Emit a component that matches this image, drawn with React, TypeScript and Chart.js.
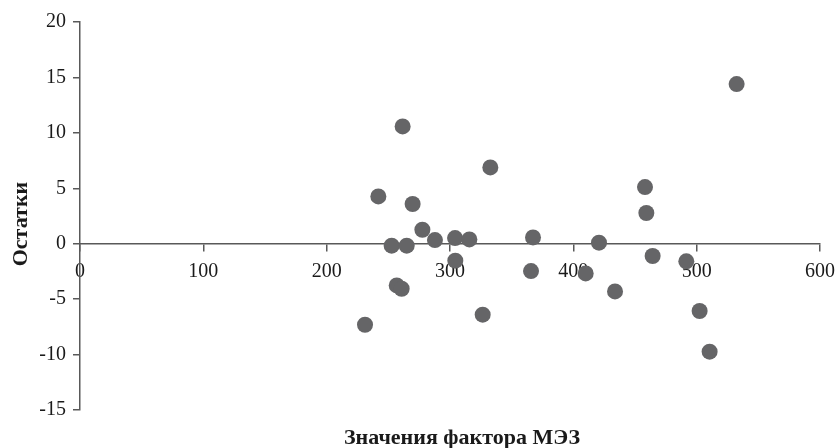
import React, { useEffect, useRef } from "react";
import { Chart, registerables } from "chart.js";

Chart.register(...registerables);

const xValues = [261.6, 332.7, 241.9, 269.7, 277.6, 287.8, 304.1, 315.7, 252.7, 264.9, 304.3, 256.8, 260.8, 326.5, 231.1, 532.4, 458.1, 459.2, 367.3, 420.8, 464.3, 491.6, 365.7, 410.0, 433.8, 502.4, 510.5];
const yValues = [10.58, 6.88, 4.27, 3.58, 1.26, 0.33, 0.51, 0.39, -0.18, -0.18, -1.53, -3.76, -4.06, -6.4, -7.31, 14.4, 5.11, 2.77, 0.57, 0.09, -1.11, -1.59, -2.47, -2.68, -4.3, -6.07, -9.74];
const xTitle = "Значения фактора МЭЗ";
const yTitle = "Остатки";
const xRange = [0, 600, 100];
const yRange = [-15, 20, 5];

const FONT = "'Liberation Serif', 'Times New Roman', serif";
const AXIS = "#595959";
const POINT = "#656567";
const TEXT = "#1a1a1a";

export default function App() {
  const ref = useRef<HTMLCanvasElement>(null);
  useEffect(() => {
    if (!ref.current) return;
    const titles = {
      id: "titles",
      afterDraw(chart: any) {
        const ctx = chart.ctx;
        ctx.save();
        ctx.fillStyle = TEXT;
        ctx.font = `bold 22px ${FONT}`;
        ctx.textAlign = "center";
        ctx.textBaseline = "middle";
        ctx.fillText(xTitle, 462, 438);
        ctx.translate(21, 224);
        ctx.rotate(-Math.PI / 2);
        ctx.fillText(yTitle, 0, 0);
        ctx.restore();
      },
    };
    const chart = new Chart(ref.current, {
      type: "scatter",
      data: {
        datasets: [
          {
            data: xValues.map((x, i) => ({ x, y: yValues[i] })),
            backgroundColor: POINT,
            borderColor: POINT,
            pointRadius: 8,
            pointHoverRadius: 8,
            borderWidth: 0,
          },
        ],
      },
      options: {
        responsive: false,
        animation: false,
        layout: { padding: { left: 0, top: 22, right: 16, bottom: 38 } },
        plugins: { legend: { display: false }, tooltip: { enabled: false } },
        scales: {
          x: {
            type: "linear",
            min: xRange[0],
            max: xRange[1],
            position: { y: 0 } as any,
            afterFit: (scale: any) => {
              scale.paddingLeft = 0;
              scale.paddingRight = 0;
            },
            ticks: { stepSize: xRange[2], color: TEXT, font: { family: FONT, size: 20 }, padding: 9, maxRotation: 0 },
            grid: { display: true, drawOnChartArea: false, drawTicks: true, tickLength: 7, color: AXIS, lineWidth: 1.5 },
            border: { display: true, color: AXIS, width: 1.5 },
          },
          y: {
            type: "linear",
            min: yRange[0],
            max: yRange[1],
            afterFit: (scale: any) => {
              scale.width = 80;
              scale.paddingTop = 0;
              scale.paddingBottom = 0;
            },
            ticks: { stepSize: yRange[2], color: TEXT, font: { family: FONT, size: 20 }, padding: 7 },
            grid: { display: true, drawOnChartArea: false, drawTicks: true, tickLength: 7, color: AXIS, lineWidth: 1.5 },
            border: { display: true, color: AXIS, width: 1.5 },
          },
        },
      },
      plugins: [titles],
    });
    return () => chart.destroy();
  }, []);
  return (
    <div style={{ position: "fixed", left: 0, top: 0, width: 836, height: 448, background: "#fff" }}>
      <canvas ref={ref} width={836} height={448} />
    </div>
  );
}
